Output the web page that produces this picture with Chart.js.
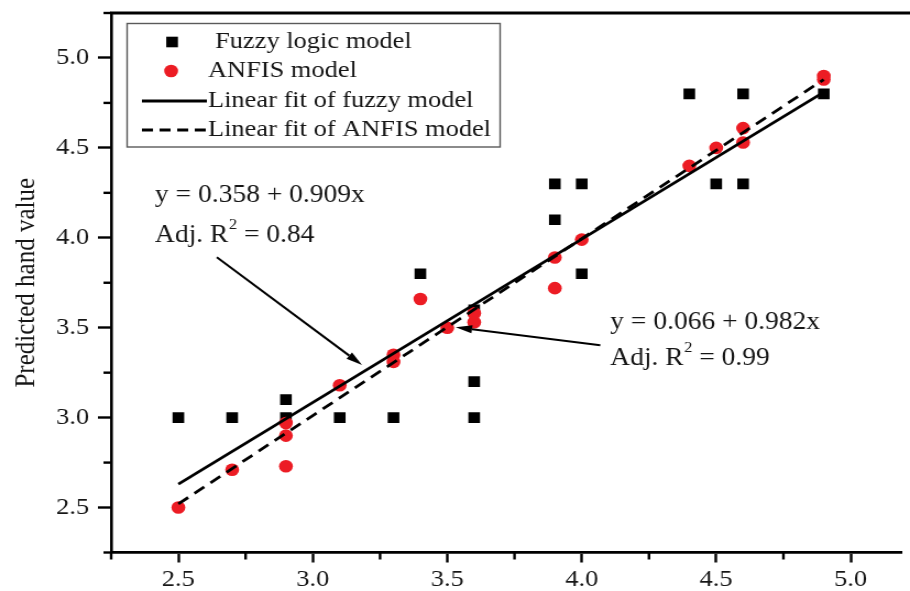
<!DOCTYPE html>
<html><head><meta charset="utf-8">
<script src="https://cdn.jsdelivr.net/npm/chart.js@4.4.1/dist/chart.umd.min.js"></script>
<style>
html,body{margin:0;padding:0;background:#fff;overflow:hidden}
canvas{display:block}
</style></head><body>
<canvas id="c" width="827" height="591" style="width:910px;height:591px"></canvas>
<script>
// ---- data ----
const fuzzyX = [2.5, 2.7, 2.9, 2.9, 3.1, 3.3, 3.4, 3.6, 3.6, 3.6, 3.9, 3.9, 4.0, 4.0, 4.4, 4.5, 4.6, 4.6, 4.9];
const fuzzyY = [3.0, 3.0, 3.1, 3.0, 3.0, 3.0, 3.8, 3.6, 3.2, 3.0, 4.3, 4.1, 4.3, 3.8, 4.8, 4.3, 4.8, 4.3, 4.8];
const anfisX = [2.5, 2.7, 2.9, 2.9, 2.9, 3.1, 3.3, 3.3, 3.4, 3.5, 3.6, 3.6, 3.9, 3.9, 4.0, 4.4, 4.5, 4.6, 4.6, 4.9, 4.9];
const anfisY = [2.5, 2.71, 2.73, 2.9, 2.97, 3.18, 3.35, 3.31, 3.66, 3.5, 3.53, 3.58, 3.89, 3.72, 3.99, 4.4, 4.5, 4.61, 4.53, 4.88, 4.9];
const fuzzyFitX = [2.5, 4.9];
const fuzzyFitY = [2.63, 4.81];
const anfisFitX = [2.5, 4.9];
const anfisFitY = [2.52, 4.88];
const xTicks = [2.5, 3.0, 3.5, 4.0, 4.5, 5.0];
const yTicks = [2.5, 3.0, 3.5, 4.0, 4.5, 5.0];
const xMinor = [2.25, 2.75, 3.25, 3.75, 4.25, 4.75];
const yMinor = [2.25, 2.75, 3.25, 3.75, 4.25, 4.75, 5.25];
const seriesLabels = ['Fuzzy logic model', 'ANFIS model', 'Linear fit of fuzzy model', 'Linear fit of ANFIS model'];
const yTitle = 'Predicted hand value';
const eqTexts = ['y = 0.358 + 0.909x', 'y = 0.066 + 0.982x'];
const r2Texts = ['0.84', '0.99'];

const pts = (xs, ys) => xs.map((x, i) => ({x, y: ys[i]}));
const SERIF = "'Liberation Serif','Times New Roman',serif";
const INK = '#161616';
const RED = '#ec1c24';

// annotation anchors (data units)
const notes = [
  {x: 2.413, y1: 4.236, y2: 4.014, from: [2.643, 3.892], to: [3.183, 3.292]},
  {x: 4.106, y1: 3.531, y2: 3.331, from: [4.069, 3.403], to: [3.531, 3.503]}
];

const extras = {
  id: 'extras',
  afterDatasetsDraw(chart) {
    const {ctx, chartArea: a, scales: {x, y}} = chart;
    ctx.save();
    ctx.strokeStyle = '#000';
    // top frame line
    ctx.lineWidth = 2.8;
    ctx.beginPath(); ctx.moveTo(a.left - 1, a.top); ctx.lineTo(chart.width + 2, a.top); ctx.stroke();
    // minor ticks
    ctx.lineWidth = 2.4;
    yMinor.forEach(v => { const py = y.getPixelForValue(v); ctx.beginPath(); ctx.moveTo(a.left, py); ctx.lineTo(a.left - 7, py); ctx.stroke(); });
    xMinor.forEach(v => { const px = x.getPixelForValue(v); ctx.beginPath(); ctx.moveTo(px, a.bottom); ctx.lineTo(px, a.bottom + 7); ctx.stroke(); });

    // legend
    ctx.lineWidth = 1.4; ctx.strokeStyle = '#5a5a5a';
    ctx.strokeRect(115.5, 23.5, 339, 123.5);
    ctx.fillStyle = '#000';
    ctx.fillRect(156.4 - 5.3, 42 - 5.3, 10.6, 10.6);
    ctx.fillStyle = RED;
    ctx.beginPath(); ctx.arc(155.5, 71, 6.3, 0, Math.PI * 2); ctx.fill();
    ctx.strokeStyle = '#000'; ctx.lineWidth = 2.8;
    ctx.beginPath(); ctx.moveTo(129, 101); ctx.lineTo(188, 101); ctx.stroke();
    ctx.setLineDash([10, 6]);
    ctx.beginPath(); ctx.moveTo(129, 130); ctx.lineTo(187, 130); ctx.stroke();
    ctx.setLineDash([]);
    ctx.fillStyle = INK; ctx.font = '24px ' + SERIF; ctx.textBaseline = 'middle'; ctx.textAlign = 'left';
    ctx.fillText(seriesLabels[0], 195.5, 42);
    ctx.fillText(seriesLabels[1], 189, 71);
    ctx.fillText(seriesLabels[2], 189, 101);
    ctx.fillText(seriesLabels[3], 189, 130);

    // annotations
    notes.forEach((n, i) => {
      const tx = x.getPixelForValue(n.x);
      ctx.fillStyle = INK;
      ctx.font = '25px ' + SERIF;
      ctx.fillText(eqTexts[i], tx, y.getPixelForValue(n.y1));
      const ly = y.getPixelForValue(n.y2);
      const head = 'Adj. R';
      ctx.fillText(head, tx, ly);
      const w = ctx.measureText(head).width;
      ctx.font = '15px ' + SERIF;
      ctx.fillText('2', tx + w + 0.5, ly - 10);
      const w2 = ctx.measureText('2').width;
      ctx.font = '25px ' + SERIF;
      ctx.fillText(' = ' + r2Texts[i], tx + w + w2 + 0.5, ly);
      // arrow
      const x0 = x.getPixelForValue(n.from[0]), y0 = y.getPixelForValue(n.from[1]);
      const x1 = x.getPixelForValue(n.to[0]), y1 = y.getPixelForValue(n.to[1]);
      const ang = Math.atan2(y1 - y0, x1 - x0);
      const L = 15, H = 4;
      const bx = x1 - L * Math.cos(ang), by = y1 - L * Math.sin(ang);
      ctx.strokeStyle = '#000'; ctx.lineWidth = 2;
      ctx.beginPath(); ctx.moveTo(x0, y0); ctx.lineTo(bx, by); ctx.stroke();
      ctx.fillStyle = '#000';
      ctx.beginPath();
      ctx.moveTo(x1, y1);
      ctx.lineTo(bx + H * Math.sin(ang), by - H * Math.cos(ang));
      ctx.lineTo(bx - H * Math.sin(ang), by + H * Math.cos(ang));
      ctx.closePath(); ctx.fill();
    });
    ctx.restore();
  }
};

new Chart(document.getElementById('c'), {
  type: 'scatter',
  data: {
    datasets: [
      {label: seriesLabels[2], type: 'line', data: pts(fuzzyFitX, fuzzyFitY), borderColor: '#000', borderWidth: 2.8, pointRadius: 0, fill: false, order: 1},
      {label: seriesLabels[3], type: 'line', data: pts(anfisFitX, anfisFitY), borderColor: '#000', borderWidth: 2.8, borderDash: [11, 7], pointRadius: 0, fill: false, order: 2},
      {label: seriesLabels[1], data: pts(anfisX, anfisY), pointStyle: 'circle', pointRadius: 6.3, backgroundColor: RED, borderColor: RED, borderWidth: 0, order: 3},
      {label: seriesLabels[0], data: pts(fuzzyX, fuzzyY), pointStyle: 'rect', pointRadius: 7.5, backgroundColor: '#000', borderColor: '#000', borderWidth: 0, order: 4}
    ]
  },
  options: {
    responsive: false, animation: false, devicePixelRatio: 1,
    layout: {padding: {top: 13, right: 0, left: 0, bottom: 0}},
    plugins: {legend: {display: false}, tooltip: {enabled: false}},
    elements: {point: {hoverRadius: 6}},
    scales: {
      x: {
        type: 'linear', min: 2.25, max: 5.19,
        afterBuildTicks: s => { s.ticks = xTicks.map(v => ({value: v})); },
        afterFit: s => { s.height = 38.5; s.paddingLeft = 0; s.paddingRight = 0; },
        border: {display: true, color: '#000', width: 2.8},
        grid: {drawOnChartArea: false, drawTicks: true, tickLength: 10, tickWidth: 2.4, tickColor: '#000'},
        ticks: {font: {family: SERIF, size: 24}, color: INK, padding: 3, maxRotation: 0, autoSkip: false, callback: v => Number(v).toFixed(1)}
      },
      y: {
        type: 'linear', min: 2.25, max: 5.25,
        afterBuildTicks: s => { s.ticks = yTicks.map(v => ({value: v})); },
        afterFit: s => { s.width = 101; s.paddingTop = 0; s.paddingBottom = 0; },
        border: {display: true, color: '#000', width: 2.6},
        grid: {drawOnChartArea: false, drawTicks: true, tickLength: 12, tickWidth: 2.4, tickColor: '#000'},
        ticks: {font: {family: SERIF, size: 24}, color: INK, padding: 8, autoSkip: false, callback: v => Number(v).toFixed(1)},
        title: {display: true, text: yTitle, font: {family: SERIF, size: 25}, color: INK, padding: {top: 9, bottom: 0}}
      }
    }
  },
  plugins: [extras]
});
</script>
</body></html>
